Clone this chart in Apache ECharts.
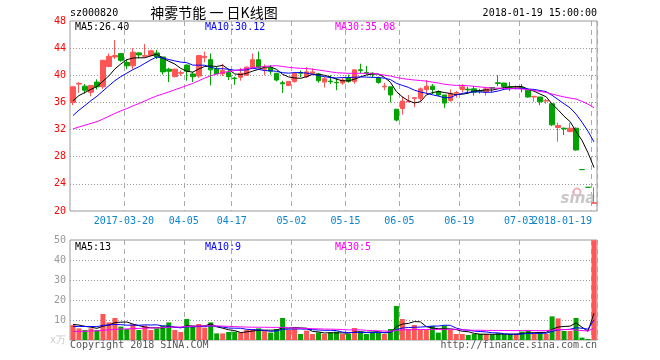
<!DOCTYPE html>
<html><head><meta charset="utf-8">
<script src="https://cdn.jsdelivr.net/npm/echarts@6/dist/echarts.min.js"></script>
<style>html,body{margin:0;padding:0;background:#fff}#c{width:660px;height:360px}</style>
</head><body><div id="c"></div>
<script>
const dates = [
'2017-03-07','2017-03-08','2017-03-09','2017-03-10','2017-03-13','2017-03-14','2017-03-15','2017-03-16','2017-03-17',
'2017-03-20','2017-03-21','2017-03-22','2017-03-23','2017-03-24','2017-03-27','2017-03-28','2017-03-29','2017-03-30','2017-03-31',
'2017-04-05','2017-04-06','2017-04-07','2017-04-10','2017-04-11','2017-04-12','2017-04-13','2017-04-14',
'2017-04-17','2017-04-18','2017-04-19','2017-04-20','2017-04-21','2017-04-24','2017-04-25','2017-04-26','2017-04-27','2017-04-28',
'2017-05-02','2017-05-03','2017-05-04','2017-05-05','2017-05-08','2017-05-09','2017-05-10','2017-05-11','2017-05-12',
'2017-05-15','2017-05-16','2017-05-17','2017-05-18','2017-05-19','2017-05-22','2017-05-23','2017-05-24','2017-05-25',
'2017-06-05','2017-06-06','2017-06-07','2017-06-08','2017-06-09','2017-06-12','2017-06-13','2017-06-14','2017-06-15','2017-06-16',
'2017-06-19','2017-06-20','2017-06-21','2017-06-22','2017-06-23','2017-06-26','2017-06-27','2017-06-28','2017-06-29','2017-06-30',
'2017-07-03','2017-07-04','2017-07-05','2017-07-06','2017-07-07','2017-07-10','2017-07-11','2017-07-12','2017-07-13',
'2018-01-16','2018-01-17','2018-01-18','2018-01-19'];

const opens = [36.0,38.7,38.4,37.5,39.0,38.3,41.3,42.7,43.2,41.9,41.4,43.3,42.8,42.9,43.3,42.7,40.9,39.8,40.3,41.5,
40.2,39.9,42.6,42.3,40.9,40.2,40.4,39.6,39.7,40.0,41.2,42.3,40.9,41.1,40.3,38.9,38.5,39.1,40.4,39.8,
40.3,40.2,39.0,39.15,38.95,38.85,39.6,39.1,40.8,40.4,40.3,39.6,38.3,38.3,35.0,35.1,36.1,36.6,36.6,37.9,
38.4,37.6,37.1,36.3,37.35,37.9,37.95,38.0,37.75,37.5,38.2,38.9,38.85,38.3,38.15,38.2,37.8,36.8,36.8,36.2,
35.8,32.3,32.2,31.7,32.2,26.1,23.49,21.14];
const closes = [38.3,38.8,37.8,38.5,38.3,42.2,42.8,42.9,42.2,41.4,43.4,43.0,42.9,43.6,42.7,40.5,40.6,40.9,40.4,40.6,
39.8,42.9,42.8,40.8,40.2,40.7,39.8,39.5,40.3,41.2,42.3,41.1,41.0,40.6,39.3,38.75,39.1,40.3,40.3,40.5,
40.5,39.2,39.5,39.05,38.9,39.3,39.1,40.8,40.7,40.3,40.15,38.95,38.4,37.1,33.4,36.2,36.2,36.7,38.0,38.4,
37.9,37.1,35.9,37.3,37.45,38.3,37.85,37.5,37.65,38.0,38.1,38.8,38.35,38.2,38.25,38.1,36.8,36.9,36.1,36.3,
32.7,32.6,32.1,32.2,29.0,26.1,23.49,21.21];
const lows = [35.6,37.4,37.3,36.9,37.9,38.0,41.2,42.4,42.0,40.9,40.9,42.5,42.7,42.8,42.4,40.1,39.0,39.7,39.9,39.2,
39.0,39.6,41.9,38.5,40.2,39.9,39.3,38.6,39.2,39.9,40.9,41.0,40.0,40.1,39.1,37.4,38.4,38.9,39.7,39.6,
40.0,38.9,38.2,38.7,37.8,38.6,38.9,38.75,40.3,40.1,39.6,38.75,37.8,36.0,33.2,34.2,36.0,35.3,36.1,37.2,
37.2,36.9,35.2,36.1,36.7,37.5,37.3,37.0,37.3,37.0,37.5,38.4,37.9,37.7,37.9,37.5,36.7,36.1,35.6,35.8,
32.5,30.2,31.2,31.6,28.9,26.1,23.49,21.14];
const highs = [38.4,39.0,38.7,38.5,39.4,42.3,43.2,45.2,43.2,42.4,44.0,43.4,44.6,43.75,43.75,42.7,41.1,41.0,40.7,41.6,
40.5,43.0,43.5,43.2,41.3,41.7,40.8,39.8,41.1,41.3,43.2,43.5,41.6,41.5,40.3,39.2,39.1,40.4,40.7,41.2,
41.0,40.35,39.75,40.0,39.6,39.6,40.1,40.8,41.7,41.4,40.4,39.8,38.9,38.3,35.0,36.9,37.1,36.8,38.2,39.3,
38.7,37.8,37.1,37.9,37.7,38.7,38.3,38.4,38.0,38.3,38.2,40.0,38.9,39.0,38.5,38.7,37.9,36.9,36.8,36.5,
35.8,33.0,32.3,33.0,32.3,26.1,23.49,23.49];
const volumes = [7.5,5.8,5.0,5.8,5.0,13.0,8.8,11.0,6.7,5.5,7.8,5.0,7.2,5.0,5.8,7.2,8.8,5.0,4.0,10.5,
6.7,8.0,6.2,8.8,3.3,3.3,4.0,4.2,3.8,5.0,5.5,5.8,4.5,3.7,5.5,11.0,5.0,5.7,3.0,4.7,
3.0,3.8,3.0,3.8,4.2,3.0,3.0,6.0,4.2,3.0,3.8,3.8,3.0,5.5,17.0,10.5,5.5,7.5,5.0,5.0,
7.0,3.7,7.2,5.0,3.0,3.0,2.5,3.0,3.0,3.0,2.5,3.3,2.8,3.0,3.0,4.2,5.0,3.0,3.8,3.0,
11.8,10.8,4.5,4.5,11.0,1.2,0.5,49.9];
// estimated sessions before the visible window (from where the MA lines start)
const priorCloses = [30.4,30.0,30.3,30.8,30.5,30.2,30.6,30.9,31.2,31.8,32.3,32.0,31.6,31.9,32.1,31.5,31.4,31.25,
31.0,30.6,30.8,31.0,31.3,31.8,34.5,35.0,35.5,36.2,36.25];
const priorVolumes = [2.8,3.2,2.5,3.0,3.4,2.7,2.9,3.1,2.6,3.3,2.9,3.0,2.8,3.5,2.7,3.1,2.9,3.2,2.6,2.8,
5.0,5.5,5.8,6.2,5.9,7.5,8.2,7.8,8.0];

const tickDates = ['2017-03-20','2017-04-05','2017-04-17','2017-05-02','2017-05-15','2017-06-05','2017-06-19','2017-07-03','2018-01-19'];
const tickTexts = ['2017-03-20','04-05','04-17','05-02','05-15','06-05','06-19','07-03','2018-01-19'];
const priceMaTexts = ['MA5:26.40','MA10:30.12','MA30:35.08'];
const volMaTexts = ['MA5:13','MA10:9','MA30:5'];
const maPeriods = [5, 10, 30];
const maColors = ['#000000', '#0000ff', '#ff00ff'];
const headerCode = 'sz000820';
const headerTitle = '神雾节能 一 日K线图';
const headerTime = '2018-01-19 15:00:00';
const footerLeft = 'Copyright 2018 SINA.COM';
const footerRight = 'http://finance.sina.com.cn';

const RED = '#ff5555', GREEN = '#00a300';
const MONO = 'DejaVu Sans Mono';

function movingAvg(prior, vals, n) {
  const all = prior.concat(vals);
  return vals.map((_, i) => {
    const end = prior.length + i;
    let s = 0;
    for (let k = end - n + 1; k <= end; k++) s += all[k];
    return +(s / n).toFixed(3);
  });
}
const isUp = closes.map((c, i) => c > opens[i] || (c === opens[i] && c >= (i ? closes[i-1] : c)));
const kData = dates.map((d, i) => [opens[i], closes[i], lows[i], highs[i]]);
const volData = volumes.map((v, i) => ({value: v, itemStyle: {color: isUp[i] ? RED : GREEN}}));
const tickSet = new Set(tickDates);

function xAxisBase(gridIndex, showLabels) {
  return {
    type: 'category', gridIndex, data: dates, boundaryGap: true,
    axisLine: {show: false}, axisTick: {show: false},
    axisLabel: showLabels ? {
      show: true, margin: 5, fontFamily: MONO, fontSize: 10, color: '#0a84d0',
      hideOverlap: false,
      interval: 0,
      formatter: (val) => {
        const k = tickDates.indexOf(val);
        if (k < 0) return '';
        return (k === tickDates.length - 1 ? '{e|' : '{c|') + tickTexts[k] + '}';
      },
      rich: {
        c: {fontFamily: MONO, fontSize: 10, color: '#0a84d0', padding: [0, 6, 0, 0]},
        e: {fontFamily: MONO, fontSize: 10, color: '#0a84d0', padding: [0, 64, 0, 0]}
      }
    } : {show: false},
    splitLine: {show: true, interval: (idx, val) => tickSet.has(val),
      lineStyle: {color: '#aaaaaa', width: 1, type: [5, 4]}}
  };
}

const series = [
  {type: 'candlestick', xAxisIndex: 0, yAxisIndex: 0, data: kData, barWidth: 5,
   itemStyle: {color: RED, color0: GREEN, borderColor: RED, borderColor0: GREEN, borderWidth: 1}}
];
maPeriods.forEach((n, j) => {
  series.push({type: 'line', xAxisIndex: 0, yAxisIndex: 0, data: movingAvg(priorCloses, closes, n),
    symbol: 'none', smooth: false, lineStyle: {color: maColors[j], width: 1}, z: 3});
});
series.push({type: 'bar', xAxisIndex: 1, yAxisIndex: 1, data: volData, barWidth: 5});
maPeriods.forEach((n, j) => {
  series.push({type: 'line', xAxisIndex: 1, yAxisIndex: 1, data: movingAvg(priorVolumes, volumes, n),
    symbol: 'none', smooth: false, lineStyle: {color: maColors[j], width: 1}, z: 3});
});

const txt = (x, y, text, color, align, extra) => Object.assign({
  type: 'text', x, y, style: Object.assign({text, fill: color, font: '10px "' + MONO + '"', align: align || 'left', verticalAlign: 'middle'}, extra || {})
});

const chart = echarts.init(document.getElementById('c'), null, {renderer: 'canvas'});
chart.setOption({
  animation: false,
  backgroundColor: '#ffffff',
  grid: [
    {left: 70, right: 63, top: 21, height: 190, show: true, borderColor: '#999999', borderWidth: 1, backgroundColor: 'transparent'},
    {left: 70, right: 63, top: 240, height: 100, show: true, borderColor: '#999999', borderWidth: 1, backgroundColor: 'transparent'}
  ],
  xAxis: [xAxisBase(0, true), xAxisBase(1, false)],
  yAxis: [
    {type: 'value', gridIndex: 0, min: 20, max: 48, interval: 4, scale: true,
     axisLine: {show: false}, axisTick: {show: false},
     axisLabel: {margin: 4, fontFamily: MONO, fontSize: 10, color: '#ff0000'},
     splitLine: {show: true, showMinLine: false, showMaxLine: false, lineStyle: {color: '#999999', type: [1, 2], width: 1}}},
    {type: 'value', gridIndex: 1, min: 0, max: 50, interval: 10,
     axisLine: {show: false}, axisTick: {show: false},
     axisLabel: {margin: 4, fontFamily: MONO, fontSize: 10, color: '#999999',
       formatter: (v) => v === 0 ? '{u|x万}' : String(v),
       rich: {u: {fontSize: 10, fontFamily: MONO, color: '#c8c8c8'}}},
     splitLine: {show: true, showMinLine: false, showMaxLine: false, lineStyle: {color: '#999999', type: [1, 2], width: 1}}}
  ],
  series,
  graphic: [
    txt(70, 13, headerCode, '#000000', 'left'),
    {type: 'text', x: 214, y: 13, style: {text: headerTitle, fill: '#000000', font: '14px "Noto Sans CJK SC"', align: 'center', verticalAlign: 'middle'}},
    txt(597, 13, headerTime, '#000000', 'right'),
    txt(75, 27, priceMaTexts[0], maColors[0]),
    txt(205, 27, priceMaTexts[1], maColors[1]),
    txt(335, 27, priceMaTexts[2], maColors[2]),
    txt(75, 247, volMaTexts[0], maColors[0]),
    txt(205, 247, volMaTexts[1], maColors[1]),
    txt(335, 247, volMaTexts[2], maColors[2]),
    txt(70, 345, footerLeft, '#555555', 'left'),
    txt(597, 345, footerRight, '#555555', 'right'),
    {type: 'circle', shape: {cx: 577, cy: 192, r: 3.5}, style: {fill: 'none', stroke: '#f4b0b8', lineWidth: 2}, z: 1},
    {type: 'text', x: 578, y: 199, style: {text: 'sina', fill: '#c8c8c8', font: 'italic bold 15px "DejaVu Sans"', align: 'center', verticalAlign: 'middle'}, z: 1}
  ]
});
</script></body></html>
